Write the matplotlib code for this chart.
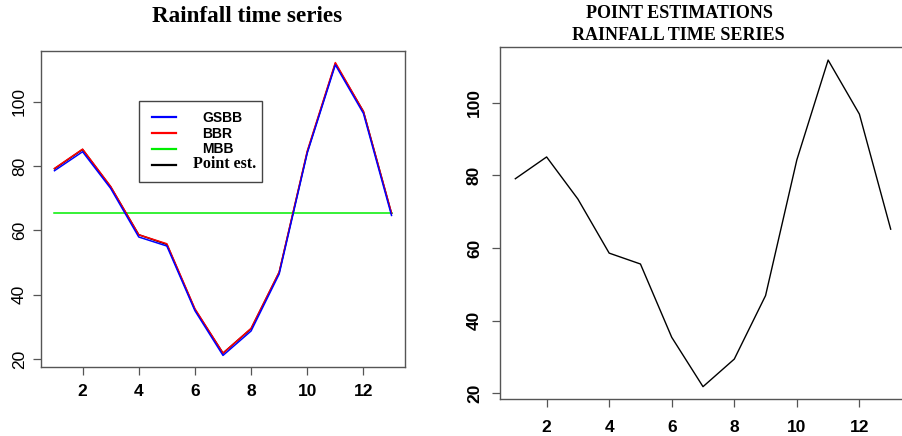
import matplotlib.pyplot as plt
from matplotlib.lines import Line2D
from matplotlib.patches import Rectangle

# month index 1..13
months = list(range(1, 14))
point_est = [79.1, 85.1, 73.5, 58.6, 55.6, 35.4, 21.8, 29.4, 46.9, 84.3, 111.8, 96.9, 65.2]
gsbb = [78.5, 84.4, 73.0, 57.9, 55.1, 35.0, 21.1, 28.7, 46.4, 84.0, 111.4, 96.3, 64.6]
bbr = [79.2, 85.2, 73.6, 58.6, 55.8, 35.6, 21.8, 29.5, 47.0, 84.6, 112.1, 96.9, 65.3]
mbb = [65.3] * 13

xticks = [2, 4, 6, 8, 10, 12]
yticks = [20, 40, 60, 80, 100]

W, H = 903, 436
fig = plt.figure(figsize=(W / 100, H / 100), dpi=100)


def px_box(x0, y0, x1, y1):
    return [x0 / W, 1 - y1 / H, (x1 - x0) / W, (y1 - y0) / H]


def style_axes(ax, ybold):
    for s in ax.spines.values():
        s.set_color('#555555')
        s.set_linewidth(1.0)
    ax.set_xticks(xticks)
    ax.set_yticks(yticks)
    ax.tick_params(direction='out', length=6, width=0.9, color='#555555')
    ax.tick_params(axis='x', pad=6)
    ax.tick_params(axis='y', pad=4)
    for t in ax.get_xticklabels():
        t.set_fontfamily('Liberation Sans')
        t.set_fontweight('bold')
        t.set_fontsize(12.5)
    for t in ax.get_yticklabels():
        t.set_fontfamily('Liberation Sans')
        t.set_fontweight('bold' if ybold else 'normal')
        t.set_fontsize(12.5)
        t.set_rotation(90)
        t.set_va('center')


# left panel
ax1 = fig.add_axes(px_box(41, 51, 405, 367))
ax1.plot(months, mbb, color='#00ee00', lw=1.1)
ax1.plot(months, point_est, color='black', lw=1.1)
ax1.plot(months, bbr, color='red', lw=1.1)
ax1.plot(months, gsbb, color='blue', lw=1.1)
ax1.set_xlim(0.52, 13.48)
ax1.set_ylim(17.5, 115.7)
style_axes(ax1, ybold=False)

fig.text(247 / W, 1 - 17 / H, 'Rainfall time series', ha='center', va='center',
         family='Liberation Serif', fontweight='bold', fontsize=16.7)

# legend box drawn by hand to match the odd spacing
fig.add_artist(Rectangle((139 / W, 1 - 182 / H), 123 / W, 81 / H, transform=fig.transFigure,
                         facecolor='white', edgecolor='#444444', lw=1.0, zorder=5))
leg_labels = ['GSBB', 'BBR', 'MBB', 'Point est.']
leg_colors = ['blue', 'red', '#00ee00', 'black']
leg_y = [117, 133, 149, 165]
leg_tx = [202, 202, 202, 193]
leg_ty = [118, 134, 149, 164]
for lab, col, ly, tx, ty in zip(leg_labels, leg_colors, leg_y, leg_tx, leg_ty):
    fig.add_artist(Line2D([152 / W, 176 / W], [1 - ly / H, 1 - ly / H], color=col, lw=1.6,
                          transform=fig.transFigure, zorder=6))
    if lab == 'Point est.':
        fig.text(tx / W, 1 - ty / H, lab, ha='left', va='center', family='Liberation Serif',
                 fontweight='bold', fontsize=11.5, zorder=6)
    else:
        fig.text(tx / W, 1 - ty / H, lab, ha='left', va='center', family='Liberation Sans',
                 fontweight='bold', fontsize=10, zorder=6)

# right panel
ax2 = fig.add_axes(px_box(500, 47, 905.7, 399))
ax2.plot(months, point_est, color='black', lw=1.0)
ax2.set_xlim(0.51, 13.48)
ax2.set_ylim(18.4, 115.4)
style_axes(ax2, ybold=True)
ax2.tick_params(axis='x', pad=9)
ax2.tick_params(axis='y', pad=7)

fig.text(679 / W, 1 - 14 / H, 'POINT ESTIMATIONS', ha='center', va='center',
         family='Liberation Serif', fontweight='bold', fontsize=13)
fig.text(678 / W, 1 - 35 / H, 'RAINFALL TIME SERIES', ha='center', va='center',
         family='Liberation Serif', fontweight='bold', fontsize=13)

fig.savefig('out.png', dpi=100)
